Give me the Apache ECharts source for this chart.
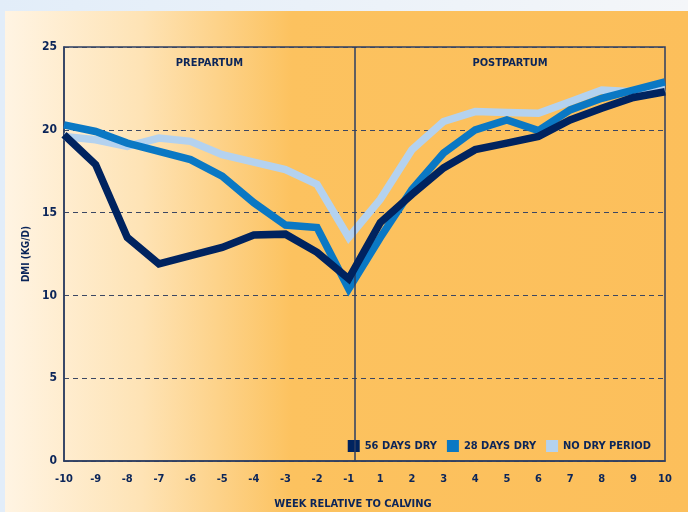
<!DOCTYPE html>
<html>
<head>
<meta charset="utf-8">
<script src="https://cdn.jsdelivr.net/npm/echarts@6/dist/echarts.min.js"></script>
<style>
  html, body { margin: 0; padding: 0; }
  #chart { width: 688px; height: 512px; }
</style>
</head>
<body>
<div id="chart"></div>
<script>
// week labels along the x axis (one point per week)
var weeks = ['-10', '-9', '-8', '-7', '-6', '-5', '-4', '-3', '-2', '-1',
             '1', '2', '3', '4', '5', '6', '7', '8', '9', '10'];

// dry matter intake, kg/d
var dry56 = [19.7, 17.9, 13.5, 11.9, 12.4, 12.9, 13.65, 13.7, 12.6, 11.0,
             14.4, 16.1, 17.7, 18.8, 19.2, 19.6, 20.6, 21.3, 21.95, 22.3];
var dry28 = [20.3, 19.9, 19.2, 18.7, 18.2, 17.2, 15.6, 14.25, 14.1, 10.4,
             13.5, 16.4, 18.6, 20.0, 20.6, 19.95, 21.2, 21.9, 22.4, 22.9];
var noDry = [19.6, 19.4, 19.0, 19.5, 19.3, 18.5, 18.05, 17.6, 16.7, 13.5,
             15.8, 18.8, 20.5, 21.1, 21.05, 21.0, 21.7, 22.4, 22.3, 22.5];

var seriesNames = ['56 DAYS DRY', '28 DAYS DRY', 'NO DRY PERIOD'];
var calving = 9.2; // divider between last prepartum and first postpartum week

var navy = '#0b2559';
var FONT = '"Liberation Sans Narrow", "DejaVu Sans Condensed", sans-serif';

function pairs(arr) {
  return arr.map(function (v, i) { return [i, v]; });
}

var chart = echarts.init(document.getElementById('chart'));

var lineSeries = function (name, data, color, z) {
  return {
    name: name,
    type: 'line',
    data: pairs(data),
    symbol: 'none',
    z: z,
    itemStyle: { color: color },
    lineStyle: { color: color, width: 7.5, join: 'miter', cap: 'butt' }
  };
};

var s56 = lineSeries(seriesNames[0], dry56, '#00235f', 5);
s56.markLine = {
  silent: true,
  symbol: 'none',
  label: { show: false },
  lineStyle: { color: '#2c3e62', width: 1.5, type: 'solid' },
  data: [{ xAxis: calving }]
};
s56.markArea = {
  silent: true,
  itemStyle: { color: 'transparent' },
  label: {
    position: 'insideTop',
    distance: 11,
    color: navy,
    fontFamily: FONT,
    fontWeight: 'bold',
    fontSize: 11
  },
  data: [
    [{ name: 'PREPARTUM', xAxis: 0 }, { xAxis: calving }],
    [{ name: 'POSTPARTUM', xAxis: calving }, { xAxis: 19 }]
  ]
};

var option = {
  animation: false,
  graphic: [
    { type: 'rect', z: -10, silent: true, shape: { x: 0, y: 0, width: 688, height: 512 },
      style: { fill: new echarts.graphic.LinearGradient(0, 0, 1, 0, [
        { offset: 0, color: '#e2edf9' }, { offset: 1, color: '#f4f6f9' }]) } },
    { type: 'rect', z: -9, silent: true, shape: { x: 5, y: 11, width: 683, height: 501 },
      style: { fill: new echarts.graphic.LinearGradient(0, 0, 1, 0, [
        { offset: 0, color: '#fff4e3' },
        { offset: 0.2, color: '#fee3b5' },
        { offset: 0.42, color: '#fcc25f' },
        { offset: 1, color: '#fcbf5b' }]) } }
  ],
  grid: {
    left: 64, right: 23, top: 47, bottom: 51,
    outerBoundsMode: 'none',
    show: true,
    borderColor: '#2c3e62',
    borderWidth: 1.5,
    backgroundColor: 'transparent'
  },
  legend: {
    data: seriesNames,
    right: 32,
    top: 435,
    icon: 'rect',
    itemWidth: 12,
    itemHeight: 12,
    itemGap: 10,
    textStyle: { color: navy, fontFamily: FONT, fontWeight: 'bold', fontSize: 11 }
  },
  xAxis: {
    type: 'value',
    min: 0,
    max: 19,
    interval: 1,
    name: 'WEEK RELATIVE TO CALVING',
    nameLocation: 'middle',
    nameGap: 38,
    nameTextStyle: {
      color: navy, fontFamily: FONT, fontWeight: 'bold', fontSize: 11,
      padding: [0, 23, 0, 0]
    },
    axisLine: { show: true, lineStyle: { color: '#2c3e62', width: 1.5 } },
    axisTick: { show: false },
    splitLine: { show: false },
    axisLabel: {
      margin: 13,
      color: navy, fontFamily: FONT, fontWeight: 'bold', fontSize: 11,
      formatter: function (v) { return weeks[v]; }
    }
  },
  yAxis: {
    type: 'value',
    min: 0,
    max: 25,
    interval: 5,
    name: 'DMI (KG/D)',
    nameLocation: 'middle',
    nameGap: 32,
    nameTextStyle: { color: navy, fontFamily: FONT, fontWeight: 'bold', fontSize: 10 },
    axisLine: { show: true, lineStyle: { color: '#2c3e62', width: 1.5 } },
    axisTick: { show: false },
    splitLine: { show: true, lineStyle: { color: '#3b4763', width: 1.2, type: [5, 4] } },
    axisLabel: {
      margin: 7,
      color: navy, fontFamily: FONT, fontWeight: 'bold', fontSize: 12
    }
  },
  series: [
    s56,
    lineSeries(seriesNames[1], dry28, '#0a78c4', 4),
    lineSeries(seriesNames[2], noDry, '#b4d2ef', 3)
  ]
};

chart.setOption(option);
</script>
</body>
</html>
